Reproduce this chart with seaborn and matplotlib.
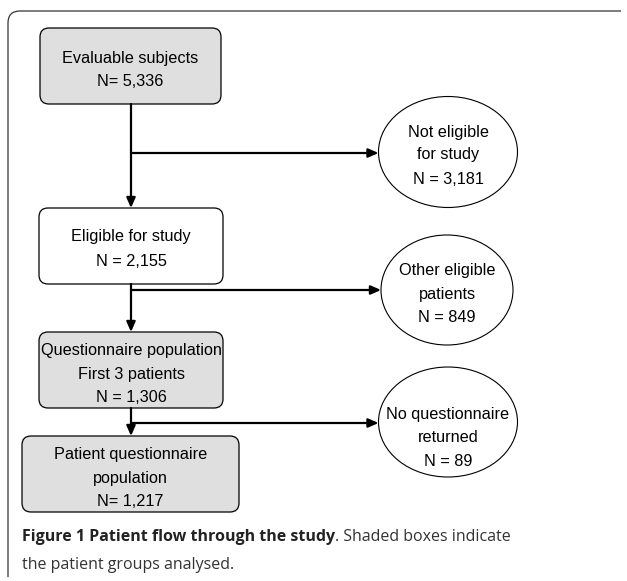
# flowchart.py - Diagrama de flujo de pacientes del estudio.

import matplotlib
matplotlib.use("Agg")
import seaborn as sns
import matplotlib.pyplot as plt
from matplotlib.patches import FancyBboxPatch, Ellipse

# datos del diagrama
cajas_texto = [
    ["Evaluable subjects", "N= 5,336"],
    ["Eligible for study", "N = 2,155"],
    ["Questionnaire population", "First 3 patients", "N = 1,306"],
    ["Patient questionnaire", "population", "N= 1,217"],
]
cajas_sombreada = [True, False, True, True]
excluidos_texto = [
    ["Not eligible", "for study", "N = 3,181"],
    ["Other eligible", "patients", "N = 849"],
    ["No questionnaire", "returned", "N = 89"],
]
titulo_fig = "Figure 1 Patient flow through the study"
resto_fig = ". Shaded boxes indicate"
linea2_fig = "the patient groups analysed."

# disposicion (pixeles)
cajas_pos = [(40, 28, 221, 104), (39, 208, 223, 284), (39, 332, 223, 408), (22, 436, 239, 512)]
cajas_lineas_y = [[58, 81], [237, 261], [351, 374, 397], [454, 478, 501]]
elipses_pos = [(448, 152, 139, 111), (447, 290, 132, 110), (448, 422, 139, 110)]
elipses_lineas_y = [[132, 155, 179], [270, 294, 317], [414, 437, 461]]
ramas_y = [153, 290, 423]
X_TRONCO = 131

sns.set_theme(style="white")
plt.rcParams["font.family"] = ["Liberation Sans", "DejaVu Sans"]

fig = plt.figure(figsize=(6.27, 5.81), dpi=100)
ax = fig.add_axes([0, 0, 1, 1])
ax.set_xlim(0, 627)
ax.set_ylim(581, 0)
ax.axis("off")

# marco exterior
marco = FancyBboxPatch((8, 11), 700, 700, boxstyle="round,pad=0,rounding_size=12",
                       fc="none", ec="#333333", lw=0.9)
ax.add_patch(marco)
ax.plot([623, 640], [11, 11], color="white", lw=3, zorder=2)
ax.plot([8, 8], [579, 600], color="white", lw=3, zorder=2)

kw_txt = dict(fontsize=11.7, color="black", ha="center", va="center", zorder=5)

# cajas
for (x0, y0, x1, y1), lineas, ys, somb in zip(cajas_pos, cajas_texto, cajas_lineas_y, cajas_sombreada):
    p = FancyBboxPatch((x0, y0), x1 - x0, y1 - y0, boxstyle="round,pad=0,rounding_size=9",
                       fc="#dfdfdf" if somb else "white", ec="black", lw=0.9, zorder=3)
    ax.add_patch(p)
    xc = (x0 + x1) / 2
    for t, y in zip(lineas, ys):
        ax.text(xc, y, t, **kw_txt)

# elipses
for (xc, yc, w, h), lineas, ys in zip(elipses_pos, excluidos_texto, elipses_lineas_y):
    ax.add_patch(Ellipse((xc, yc), w, h, fc="white", ec="black", lw=0.8, zorder=3))
    for t, y in zip(lineas, ys):
        ax.text(xc, y, t, **kw_txt)

# tronco vertical con flechas
flecha = dict(arrowstyle="-|>,head_length=0.5,head_width=0.22", color="black", lw=1.6,
              shrinkA=0, shrinkB=0)
for (_, _, _, yb), (_, yt, _, _) in zip(cajas_pos[:-1], cajas_pos[1:]):
    ax.annotate("", xy=(X_TRONCO, yt), xytext=(X_TRONCO, yb), arrowprops=flecha, zorder=4)

# ramas horizontales hacia las elipses
for y, (xc, yc, w, h) in zip(ramas_y, elipses_pos):
    ax.annotate("", xy=(xc - w / 2, y), xytext=(X_TRONCO, y), arrowprops=flecha, zorder=4)

# pie de figura
fam_pie = ["Open Sans", "DejaVu Sans"]
t1 = ax.text(22, 537, titulo_fig, family=fam_pie, fontweight="bold",
             fontsize=11.5, color="#222222", ha="left", va="center")
fig.canvas.draw()
bb = t1.get_window_extent().transformed(ax.transData.inverted())
ax.text(bb.x1, 537, resto_fig, family=fam_pie, fontsize=11.5,
        color="#333333", ha="left", va="center")
ax.text(22, 565, linea2_fig, family=fam_pie, fontsize=11.5,
        color="#333333", ha="left", va="center")

fig.savefig("out.png", dpi=100)
plt.close(fig)
